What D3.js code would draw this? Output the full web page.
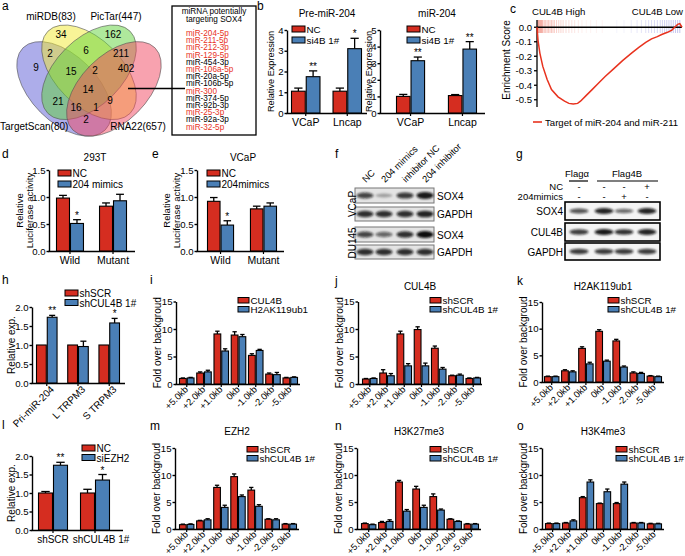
<!DOCTYPE html>
<html><head><meta charset="utf-8">
<script src="https://cdnjs.cloudflare.com/ajax/libs/d3/7.8.5/d3.min.js"></script>
<style>body{margin:0;background:#fff}svg{display:block}text{font-family:"Liberation Sans",Arial,sans-serif}</style>
</head><body><svg id="fig" width="685" height="556"></svg>
<script>
// ---------------- DATA ----------------
const vennSets = ["miRDB(83)", "PicTar(447)", "TargetScan(80)", "RNA22(657)"];
const vennCounts = [34, 162, 2, 6, 211, 9, 15, 2, 402, 14, 21, 9, 16, 1, 2];
const mirnaHeader = ["miRNA  potentially", "targeting SOX4"];
const mirnaList = ["miR-204-5p","miR-211-5p","miR-212-3p","miR-129-5p","miR-454-3p","miR-106a-5p","miR-20a-5p","miR-106b-5p","miR-300","miR-374-5p","miR-92b-3p","miR-25-3p","miR-92a-3p","miR-32-5p"];
const mirnaRed = [1,1,1,1,0,1,0,0,1,0,0,1,0,1];

const bCats = ["VCaP", "Lncap"];
const bSeries = ["NC", "si4B 1#"];
const preNC = [1.05, 1.05], preNCErr = [0.15, 0.15];
const preSi = [1.75, 3.1], preSiErr = [0.28, 0.5];
const preStars = ["**", "*"];
const mirNC = [1.0, 1.05], mirNCErr = [0.12, 0.06];
const mirSi = [3.15, 3.85], mirSiErr = [0.22, 0.45];
const mirStars = ["**", "**"];

const gseaRank = [0, 0.7, 2, 4, 7, 10, 14.5, 19, 22, 25, 28, 30, 34, 38, 42, 47, 53, 59, 65, 70, 75, 79, 83, 86, 90, 93, 95, 97, 98.5, 100];
const gseaES = [0, -0.09, -0.18, -0.27, -0.36, -0.43, -0.48, -0.51, -0.525, -0.53, -0.525, -0.51, -0.47, -0.43, -0.39, -0.34, -0.285, -0.23, -0.18, -0.14, -0.105, -0.08, -0.065, -0.05, -0.035, -0.02, 0.0, 0.02, 0.025, 0];
const gseaTicks = [0, -0.1, -0.2, -0.3, -0.4, -0.5];
const gseaHits = [0.5,1,1.5,2,2.5,3,3.5,4,5,6,7,8,9,10,11,12,13.5,15,16.5,18,20,22,24,26,28.5,31,34,37,41,45,55,60,65,69,72,75,77,79,81,83,85,86.5,88,89.5,91,92.5,94,95.5,97,98.5];
const gseaLabels = ["CUL4B High", "CUL4B Low"];
const gseaLegend = "Target of miR-204 and miR-211";

const lucCats = ["Wild", "Mutant"];
const d293NC = [0.98, 0.83], d293NCErr = [0.05, 0.06];
const d293Mim = [0.51, 0.93], d293MimErr = [0.07, 0.12];
const d293Stars = ["*", ""];
const eVcapNC = [0.92, 0.78], eVcapNCErr = [0.07, 0.05];
const eVcapMim = [0.48, 0.83], eVcapMimErr = [0.08, 0.06];
const eVcapStars = ["*", ""];

const blotFLanes = ["NC", "204 mimics", "inhibitor NC", "204 inhibitor"];
const blotFRows = ["SOX4", "GAPDH", "SOX4", "GAPDH"];
const blotFCells = ["VCaP", "DU145"];
const blotFInt = [[0.75,0.3,0.8,0.95],[0.85,0.85,0.85,0.9],[0.75,0.6,0.85,1.0],[0.85,0.85,0.85,0.85]];
const blotGGroups = ["Flagα", "Flag4B"];
const blotGRows = ["SOX4", "CUL4B", "GAPDH"];
const blotGInt = [[0.7,0.9,0.6,0.9],[0.8,0.95,0.85,0.9],[0.8,0.8,0.8,0.8]];
const blotGNC = ["-", "-", "-", "+"];
const blotGMim = ["-", "-", "+", "-"];

const hCats = ["Pri-miR-204", "L TRPM3", "S TRPM3"];
const hSCR = [1.0, 1.0, 1.0], hSCRErr = [0, 0, 0];
const hSh = [1.73, 0.96, 1.58], hShErr = [0.05, 0.14, 0.12];
const hStars = ["**", "", "*"];

const lCats = ["shSCR", "shCUL4B 1#"];
const lNC = [1.0, 1.0], lNCErr = [0.04, 0.1];
const lSi = [1.75, 1.35], lSiErr = [0.08, 0.15];
const lStars = ["**", "*"];

const chipCats = ["+5.0kb", "+2.0kb", "+1.0kb", "0kb", "-1.0kb", "-2.0kb", "-5.0kb"];
const iCul4b = [1.0, 2.0, 9.1, 8.9, 5.2, 1.8, 1.1], iCul4bErr = [0.1, 0.2, 0.5, 0.6, 0.3, 0.2, 0.1];
const iH2ak = [1.1, 2.2, 6.0, 8.6, 6.1, 1.7, 1.2], iH2akErr = [0.1, 0.3, 0.4, 0.4, 0.2, 0.4, 0.1];
const jSCR = [0.9, 2.0, 9.1, 9.9, 6.5, 1.5, 1.0], jSCRErr = [0.1, 0.6, 0.5, 0.5, 0.4, 0.1, 0.1];
const jSh = [1.0, 1.5, 3.3, 3.3, 2.7, 1.6, 1.1], jShErr = [0.1, 0.4, 0.4, 0.5, 0.3, 0.2, 0.1];
const kSCR = [1.0, 2.1, 6.3, 9.5, 7.7, 1.7, 1.1], kSCRErr = [0.1, 0.2, 0.3, 0.3, 0.3, 0.2, 0.1];
const kSh = [1.0, 1.9, 3.4, 3.9, 2.8, 1.6, 1.0], kShErr = [0.1, 0.2, 0.3, 0.2, 0.2, 0.2, 0.1];
const mSCR = [0.8, 1.5, 7.7, 9.7, 7.2, 1.8, 0.9], mSCRErr = [0.1, 0.1, 0.4, 0.5, 0.5, 0.1, 0.1];
const mSh = [0.85, 1.7, 4.0, 6.0, 4.2, 1.7, 0.9], mShErr = [0.1, 0.2, 0.4, 0.3, 0.3, 0.2, 0.1];
const nSCR = [1.0, 1.2, 8.7, 7.4, 6.0, 1.8, 0.9], nSCRErr = [0.1, 0.2, 0.3, 0.5, 0.5, 0.1, 0.1];
const nSh = [0.8, 1.4, 3.3, 4.0, 3.5, 1.4, 0.9], nShErr = [0.1, 0.3, 0.3, 0.4, 0.2, 0.1, 0.1];
const oSCR = [1.0, 1.1, 5.8, 4.7, 4.7, 1.1, 0.95], oSCRErr = [0.1, 0.1, 0.2, 0.1, 0.2, 0.1, 0.1];
const oSh = [1.0, 1.5, 8.7, 6.9, 8.3, 1.1, 0.95], oShErr = [0.1, 0.2, 0.4, 0.5, 0.4, 0.1, 0.1];
const chipLegend = ["shSCR", "shCUL4B 1#"];
const iLegend = ["CUL4B", "H2AK119ub1"];
const lLegend = ["NC", "siEZH2"];
const chipTitles = ["CUL4B", "H2AK119ub1", "EZH2", "H3K27me3", "H3K4me3"];
const lucLegend = [["NC", "204 mimics"], ["NC", "204mimics"]];

// ---------------- DRAWING ----------------
const svg = d3.select("#fig");
const RED = "#d52d20", BLUE = "#4a7fb6";
const defs = svg.append("defs");
defs.append("filter").attr("id", "blur").attr("x", "-30%").attr("y", "-100%").attr("width", "160%").attr("height", "300%")
  .append("feGaussianBlur").attr("stdDeviation", 0.9);

function txt(g, x, y, s, fs, anchor, fill) {
  return g.append("text").attr("x", x).attr("y", y).text(s).attr("font-size", fs)
    .attr("text-anchor", anchor || "start").attr("fill", fill || "#000");
}
function panelLabel(s, x, y) { txt(svg, x, y, s, 12, "start"); }

function legend(g, x, y, labels, colors, o) {
  o = o || {};
  const w = o.w || 13, h = o.h || 6, dy = o.dy || 11, fs = o.fs || 10;
  labels.forEach((l, i) => {
    g.append("rect").attr("x", x).attr("y", y + i * dy - h).attr("width", w).attr("height", h)
      .attr("fill", colors[i]).attr("stroke", "#000").attr("stroke-width", 1);
    txt(g, x + w + 1.5, y + i * dy + 1, l, fs);
  });
}

function barChart(o) {
  const g = svg.append("g");
  const y = d3.scaleLinear().domain([0, o.yMax]).range([o.y0, o.y1]);
  const x = d3.scaleBand().domain(o.cats).range([o.b0, o.b1]).paddingInner(o.pad).paddingOuter(0);
  const xs = d3.scaleBand().domain(o.series.map((s, i) => i)).range([0, x.bandwidth()]);
  const ax = g.append("g").attr("transform", `translate(${o.ax},0)`)
    .call(d3.axisLeft(y).tickValues(o.ticks).tickFormat(o.fmt).tickSizeInner(2.5).tickSizeOuter(0).tickPadding(1));
  ax.select(".domain").attr("stroke-width", 1.4);
  ax.selectAll(".tick line").attr("stroke-width", 1.4);
  ax.selectAll(".tick text").attr("font-size", o.fs || 9.6).attr("font-family", null).attr("fill", "#000");
  g.append("line").attr("x1", o.ax - 0.7).attr("x2", o.axEnd).attr("y1", o.y0 + 0.5).attr("y2", o.y0 + 0.5)
    .attr("stroke", "#000").attr("stroke-width", 1.4);
  o.cats.forEach((c, ci) => {
    const cx = x(c) + x.bandwidth() / 2;
    g.append("line").attr("x1", cx).attr("x2", cx).attr("y1", o.y0).attr("y2", o.y0 + 3).attr("stroke", "#000").attr("stroke-width", 1.2);
    if (o.rot) {
      txt(g, 0, 0, c, o.xfs || 10, "end").attr("transform", `translate(${cx + (o.lx || 3)},${o.y0 + (o.ly || 8)}) rotate(${o.rot})`);
    } else {
      txt(g, cx + (o.lxs ? o.lxs[ci] : 0), o.y0 + 12.5, c, o.xfs || 10.5, "middle");
    }
  });
  o.series.forEach((s, si) => {
    o.cats.forEach((c, ci) => {
      const v = s.vals[ci], e = s.errs[ci];
      const bx = x(c) + xs(si), bw = xs.bandwidth();
      const cx = bx + bw / 2;
      if (e > 0) {
        g.append("line").attr("x1", cx).attr("x2", cx).attr("y1", y(v)).attr("y2", y(v + e)).attr("stroke", "#000").attr("stroke-width", 1.3);
        g.append("line").attr("x1", cx - bw * 0.28).attr("x2", cx + bw * 0.28).attr("y1", y(v + e)).attr("y2", y(v + e)).attr("stroke", "#000").attr("stroke-width", 1.3);
      }
      g.append("rect").attr("x", bx + 0.5).attr("y", y(v)).attr("width", bw - 1).attr("height", y(0) - y(v))
        .attr("fill", s.color).attr("stroke", "#000").attr("stroke-width", 1.1);
      if (s.stars && s.stars[ci]) txt(g, cx, y(v + e) - 1, s.stars[ci], 10, "middle");
    });
  });
  if (o.ylab) {
    const cy = (o.y0 + o.y1) / 2;
    o.ylab.lines.forEach((l, i) => {
      txt(g, 0, 0, l, o.ylab.fs || 9.5, "middle").attr("transform", `translate(${o.ylab.x + i * (o.ylab.dy || 10)},${cy}) rotate(-90)`);
    });
  }
  if (o.title) txt(g, o.title.x, o.title.y, o.title.text, o.title.fs || 10, "middle");
  if (o.legend) legend(g, o.legend.x, o.legend.y, o.legend.labels, o.series.map(s => s.color), o.legend);
  return g;
}

// ---------- Panel a: Venn ----------
(function () {
  const g = svg.append("g");
  const S = 166, ox = 89, oy = 25;
  const P = (u, v) => [ox + (u - 0.5) * S, oy + (v - 0.145) * S];
  const ells = [
    { c: P(0.35, 0.53), rot: 45, col: "#5b5bd6" },
    { c: P(0.5, 0.43), rot: 45, col: "#f2ea30" },
    { c: P(0.5, 0.43), rot: -45, col: "#5fd23a" },
    { c: P(0.65, 0.53), rot: -45, col: "#f24660" }
  ];
  ells.forEach(e => {
    g.append("ellipse").attr("cx", 0).attr("cy", 0).attr("rx", 0.35 * S).attr("ry", 0.2 * S)
      .attr("transform", `translate(${e.c[0]},${e.c[1]}) rotate(${e.rot})`)
      .attr("fill", e.col).attr("fill-opacity", 0.5).attr("stroke", "#555").attr("stroke-width", 0.6);
  });
  const pos = [[61,38],[113,38],[50,57],[86,54],[121,57],[36,71],[71,75],[95,74],[126,72],[88,93],[58,105],[110,104],[76,111],[96,111],[86,123]];
  vennCounts.forEach((c, i) => txt(g, pos[i][0], pos[i][1], c, 10, "middle"));
  const lp = [[51, 20, "middle"], [116, 20, "middle"], [0, 130, "start"], [138, 130, "middle"]];
  vennSets.forEach((s, i) => txt(g, lp[i][0], lp[i][1], s, 10, lp[i][2]));
  g.append("line").attr("x1", 128).attr("x2", 185).attr("y1", 88.5).attr("y2", 88.5).attr("stroke", "#000").attr("stroke-width", 1.3);
  g.append("rect").attr("x", 172).attr("y", 6).attr("width", 84).attr("height", 129).attr("fill", "none").attr("stroke", "#000").attr("stroke-width", 1.3);
  mirnaHeader.forEach((h, i) => txt(g, 214, 14 + i * 7.5, h, 8.2, "middle"));
  mirnaList.forEach((m, i) => txt(g, 186, 36 + i * 7.2, m, 8.2, "start", mirnaRed[i] ? "#e8321e" : "#000"));
})();

// ---------- Panel b ----------
barChart({ cats: bCats, series: [{ vals: preNC, errs: preNCErr, color: RED }, { vals: preSi, errs: preSiErr, color: BLUE, stars: preStars }],
  yMax: 4, y0: 113, y1: 30, ticks: [0, 1, 2, 3, 4], fmt: d3.format("d"), ax: 287, axEnd: 367, b0: 291, b1: 362, pad: 0.29,
  ylab: { x: 274, lines: ["Relative Expression"], fs: 9.2 }, title: { x: 327, y: 17, text: "Pre-miR-204" },
  legend: { x: 292, y: 32, labels: bSeries, fs: 9.8 } });
barChart({ cats: bCats, series: [{ vals: mirNC, errs: mirNCErr, color: RED }, { vals: mirSi, errs: mirSiErr, color: BLUE, stars: mirStars }],
  yMax: 5, y0: 113, y1: 30, ticks: [0, 1, 2, 3, 4, 5], fmt: d3.format("d"), ax: 380, axEnd: 485, b0: 396, b1: 477, pad: 0.44,
  ylab: { x: 372, lines: ["Relative Expression"], fs: 9.2 }, title: { x: 437, y: 17, text: "miR-204" },
  legend: { x: 407, y: 32, labels: bSeries, fs: 9.8 } });

// ---------- Panel c: GSEA ----------
(function () {
  const g = svg.append("g");
  const x = d3.scaleLinear().domain([0, 100]).range([537, 682]);
  const y = d3.scaleLinear().domain([-0.55, 0.05]).range([107, 20]);
  gseaHits.forEach(h => {
    const red = h < 50;
    const op = red ? Math.max(0.08, 0.45 - h / 90) : Math.max(0.08, (h - 50) / 120);
    g.append("line").attr("x1", x(h)).attr("x2", x(h)).attr("y1", 20).attr("y2", 33)
      .attr("stroke", red ? "#e8503c" : "#5a5ad0").attr("stroke-opacity", op).attr("stroke-width", 0.9);
  });
  g.append("line").attr("x1", 537).attr("x2", 537).attr("y1", 20).attr("y2", 107).attr("stroke", "#000").attr("stroke-width", 1.3);
  gseaTicks.forEach(t => {
    g.append("line").attr("x1", 534).attr("x2", 537).attr("y1", y(t)).attr("y2", y(t)).attr("stroke", "#000").attr("stroke-width", 1.3);
    txt(g, 532, y(t) + 3.5, t === 0 ? "0.0" : t.toFixed(1), 9.6, "end");
  });
  g.append("line").attr("x1", 537).attr("x2", 682).attr("y1", y(0)).attr("y2", y(0)).attr("stroke", "#000").attr("stroke-width", 1.3);
  const line = d3.line().x((d, i) => x(gseaRank[i])).y(d => y(d));
  g.append("path").datum(gseaES).attr("d", line).attr("fill", "none").attr("stroke", "#e8321e").attr("stroke-width", 1.5);
  txt(g, 532, 15, gseaLabels[0], 9.6);
  txt(g, 683, 15, gseaLabels[1], 9.6, "end");
  txt(g, 0, 0, "Enrichment Score", 10, "middle").attr("transform", "translate(510,60) rotate(-90)");
  g.append("line").attr("x1", 533).attr("x2", 542).attr("y1", 122).attr("y2", 122).attr("stroke", "#e8321e").attr("stroke-width", 1.6);
  txt(g, 545, 125.5, gseaLegend, 9.6);
})();

// ---------- Panels d, e ----------
barChart({ cats: lucCats, series: [{ vals: d293NC, errs: d293NCErr, color: RED }, { vals: d293Mim, errs: d293MimErr, color: BLUE, stars: d293Stars }],
  yMax: 1.5, y0: 251, y1: 170, ticks: [0, 0.5, 1, 1.5], fmt: d3.format(".1f"), ax: 49, axEnd: 135, b0: 56, b1: 127, pad: 0.35,
  ylab: { x: 23, dy: 10, lines: ["Relative", "Luciferase activity"] }, title: { x: 95, y: 161, text: "293T" },
  legend: { x: 58, y: 176, labels: lucLegend[0] } });
barChart({ cats: lucCats, series: [{ vals: eVcapNC, errs: eVcapNCErr, color: RED }, { vals: eVcapMim, errs: eVcapMimErr, color: BLUE, stars: eVcapStars }],
  yMax: 1.5, y0: 251, y1: 170, ticks: [0, 0.5, 1, 1.5], fmt: d3.format(".1f"), ax: 197, axEnd: 284, b0: 207, b1: 277, pad: 0.37,
  ylab: { x: 170, dy: 10, lines: ["Relative", "Luciferase activity"] }, title: { x: 243, y: 161, text: "VCaP" },
  legend: { x: 207, y: 176, labels: lucLegend[1] } });

// ---------- Panel f: western blots ----------
(function () {
  const g = svg.append("g");
  const lanes = [365, 384, 405, 425];
  const rows = [[188, 203], [207, 221], [227, 242], [245, 259]];
  blotFLanes.forEach((l, i) => txt(g, 0, 0, l, 9.3, "start").attr("transform", `translate(${lanes[i] + 1},${183}) rotate(-45)`));
  rows.forEach((r, ri) => {
    g.append("rect").attr("x", 355).attr("y", r[0]).attr("width", 79).attr("height", r[1] - r[0]).attr("fill", "#e4e4e4").attr("stroke", "#777").attr("stroke-width", 1);
    blotFInt[ri].forEach((v, li) => {
      g.append("ellipse").attr("cx", lanes[li]).attr("cy", (r[0] + r[1]) / 2).attr("rx", 8.5).attr("ry", 1.2 + 2.4 * v)
        .attr("fill", "#111").attr("fill-opacity", v).attr("filter", "url(#blur)");
    });
    txt(g, 437, (r[0] + r[1]) / 2 + 4, blotFRows[ri], 10);
  });
  txt(g, 0, 0, blotFCells[0], 10, "middle").attr("transform", "translate(356,204) rotate(-90)");
  txt(g, 0, 0, blotFCells[1], 10, "middle").attr("transform", "translate(356,243) rotate(-90)");
})();

// ---------- Panel g ----------
(function () {
  const g = svg.append("g");
  const lanes = [579, 604, 624, 647];
  txt(g, 577, 177, blotGGroups[0], 9.5, "middle");
  txt(g, 627, 177, blotGGroups[1], 9.5, "middle");
  g.append("line").attr("x1", 569).attr("x2", 588).attr("y1", 181).attr("y2", 181).attr("stroke", "#000").attr("stroke-width", 1.2);
  g.append("line").attr("x1", 597).attr("x2", 658).attr("y1", 181).attr("y2", 181).attr("stroke", "#000").attr("stroke-width", 1.2);
  txt(g, 563, 190, "NC", 9.5, "end");
  txt(g, 563, 200, "204mimics", 9.5, "end");
  lanes.forEach((lx, i) => { txt(g, lx, 190, blotGNC[i], 9.5, "middle"); txt(g, lx, 200, blotGMim[i], 9.5, "middle"); });
  const rows = [[202, 220], [223, 241], [243, 260]];
  rows.forEach((r, ri) => {
    g.append("rect").attr("x", 565).attr("y", r[0]).attr("width", 95).attr("height", r[1] - r[0]).attr("fill", "#f4f4f4").attr("stroke", "#000").attr("stroke-width", 1.6);
    blotGInt[ri].forEach((v, li) => {
      g.append("ellipse").attr("cx", lanes[li]).attr("cy", (r[0] + r[1]) / 2).attr("rx", 9.5).attr("ry", 0.9 + 2.2 * v)
        .attr("fill", "#111").attr("fill-opacity", v).attr("filter", "url(#blur)");
    });
    txt(g, 563, (r[0] + r[1]) / 2 + 4, blotGRows[ri], 10, "end");
  });
})();

// ---------- Panel h ----------
barChart({ cats: hCats, series: [{ vals: hSCR, errs: hSCRErr, color: RED }, { vals: hSh, errs: hShErr, color: BLUE, stars: hStars }],
  yMax: 2, y0: 383, y1: 307, ticks: [0, 0.5, 1, 1.5, 2], fmt: d3.format(".1f"), ax: 32, axEnd: 125, b0: 36, b1: 120, pad: 0.31,
  rot: -45, lx: 8, ly: 7, xfs: 10, ylab: { x: 15, lines: ["Relative exp."], fs: 10 },
  legend: { x: 65, y: 296, dy: 9.5, labels: chipLegend } });

// ---------- ChIP panels ----------
function chip(o) {
  return barChart({ cats: chipCats, series: [{ vals: o.a, errs: o.ae, color: RED }, { vals: o.b, errs: o.be, color: BLUE }],
    yMax: 15, y0: o.y0, y1: o.y1, ticks: [0, 5, 10, 15], fmt: d3.format("d"), ax: o.ax, axEnd: o.axEnd, b0: o.b0, b1: o.b1, pad: 0.1,
    rot: -45, lx: 2, ly: 6, xfs: 9.3, ylab: { x: o.ax - 15, lines: ["Fold over backgroud"], fs: 10 },
    title: o.title ? { x: (o.ax + o.axEnd) / 2, y: o.ty, text: o.title } : null,
    legend: { x: o.lgx, y: o.lgy, labels: o.lg, w: 11, h: 5.5, dy: 9, fs: 9.8 } });
}
chip({ a: iCul4b, ae: iCul4bErr, b: iH2ak, be: iH2akErr, y0: 384, y1: 301.5, ax: 176, axEnd: 300, b0: 179, b1: 298, lgx: 238, lgy: 303, lg: iLegend });
chip({ a: jSCR, ae: jSCRErr, b: jSh, be: jShErr, y0: 384, y1: 301.5, ax: 358, axEnd: 482, b0: 362, b1: 481, lgx: 430, lgy: 303, lg: chipLegend, title: chipTitles[0], ty: 290 });
chip({ a: kSCR, ae: kSCRErr, b: kSh, be: kShErr, y0: 382, y1: 302, ax: 542, axEnd: 664, b0: 544, b1: 662, lgx: 608, lgy: 303, lg: chipLegend, title: chipTitles[1], ty: 290 });

// ---------- Panel l ----------
barChart({ cats: lCats, series: [{ vals: lNC, errs: lNCErr, color: RED }, { vals: lSi, errs: lSiErr, color: BLUE, stars: lStars }],
  yMax: 2, y0: 530, y1: 456, ticks: [0, 0.5, 1, 1.5, 2], fmt: d3.format(".1f"), ax: 32, axEnd: 123, b0: 38, b1: 110, pad: 0.286,
  ylab: { x: 15, lines: ["Relative exp."], fs: 10 }, xfs: 10, lxs: [0, 6],
  legend: { x: 82, y: 451, dy: 9.5, labels: lLegend } });

chip({ a: mSCR, ae: mSCRErr, b: mSh, be: mShErr, y0: 529, y1: 448, ax: 175, axEnd: 299, b0: 179, b1: 297, lgx: 247, lgy: 452, lg: chipLegend, title: chipTitles[2], ty: 435 });
chip({ a: nSCR, ae: nSCRErr, b: nSh, be: nShErr, y0: 529, y1: 448, ax: 357, axEnd: 481, b0: 361, b1: 479, lgx: 430, lgy: 452, lg: chipLegend, title: chipTitles[3], ty: 435 });
chip({ a: oSCR, ae: oSCRErr, b: oSh, be: oShErr, y0: 529, y1: 448, ax: 542, axEnd: 664, b0: 545, b1: 662, lgx: 616, lgy: 452, lg: chipLegend, title: chipTitles[4], ty: 435 });

// ---------- panel letters ----------
[["a",2,10],["b",257,10],["c",510,13],["d",2,158],["e",152,158],["f",335,158],["g",516,158],
 ["h",2,284],["i",150,284],["j",335,285],["k",517,285],["l",2,429],["m",150,430],["n",335,430],["o",517,430]]
 .forEach(p => panelLabel(p[0], p[1], p[2]));
</script></body></html>
